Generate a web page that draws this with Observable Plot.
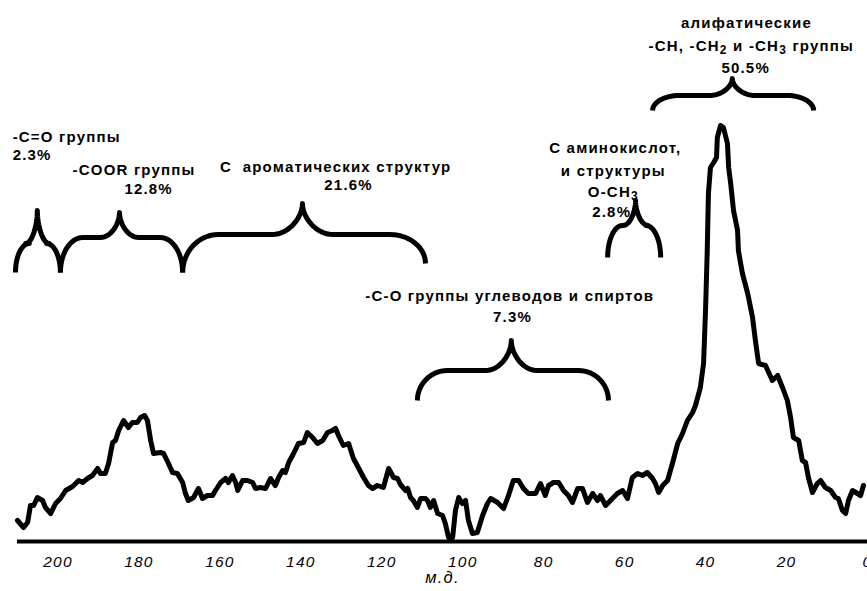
<!DOCTYPE html>
<html>
<head>
<meta charset="utf-8">
<script src="https://cdn.jsdelivr.net/npm/d3@7"></script>
<script src="https://cdn.jsdelivr.net/npm/@observablehq/plot@0.6"></script>
<style>
  body { margin: 0; background: #fff; }
</style>
</head>
<body>
<div id="chart"></div>
<script>
// Chemical shift (ppm) and signal intensity
const ppm = [210.0,208.5,207.5,206.8,206.0,205.1,203.8,203.1,201.8,200.6,199.4,198.1,196.4,194.9,193.9,192.7,191.5,190.2,189.5,188.3,187.5,186.5,185.8,185.0,183.8,182.6,181.6,180.4,179.6,178.6,177.9,177.1,176.4,174.7,173.9,172.7,171.7,170.5,169.2,168.5,167.8,166.5,165.3,164.3,163.1,161.8,161.1,159.8,158.6,157.9,156.9,156.1,155.6,154.4,153.2,151.9,151.2,150.0,148.7,147.5,146.3,145.5,144.5,143.8,143.0,141.8,140.6,139.3,138.4,137.1,135.9,134.6,133.4,132.2,131.4,130.7,129.5,128.2,127.0,125.8,124.5,123.3,122.3,121.1,119.6,118.3,117.1,116.1,115.4,114.1,113.6,112.9,112.2,111.2,110.4,109.9,109.2,108.7,108.0,107.2,106.2,105.0,104.3,103.5,102.5,101.8,101.0,100.1,99.3,98.6,97.6,96.4,95.1,93.9,93.1,91.4,89.9,88.7,87.5,86.2,85.0,83.8,82.0,80.8,79.6,78.8,77.6,76.3,75.1,73.9,72.9,71.6,70.4,69.2,67.9,66.7,66.0,64.7,63.5,61.8,60.5,59.3,58.1,56.8,55.6,54.4,53.1,52.4,51.6,50.6,49.4,48.2,46.9,45.7,44.5,43.2,42.5,41.3,40.5,40.0,39.6,39.3,38.8,38.0,37.3,37.1,36.3,35.6,34.6,34.3,33.8,33.1,32.1,31.9,30.9,29.6,28.4,27.7,26.9,25.2,23.5,22.2,21.0,19.8,19.0,18.3,17.0,16.1,15.3,14.6,13.6,12.4,11.6,10.4,9.1,7.9,7.2,6.2,5.4,4.7,3.7,2.5,1.7,1.0];
const intensity = [21,14,19,36,36,44,41,34,28,38,43,51,55,61,59,63,66,73,68,68,78,99,101,111,121,114,119,119,124,126,121,101,88,89,88,78,69,68,59,48,41,44,53,43,46,46,51,59,63,59,66,59,51,61,61,59,53,54,53,63,56,64,71,69,79,88,98,99,109,104,98,101,109,111,113,106,96,98,83,74,64,56,53,56,54,73,64,63,57,51,53,44,41,34,43,43,43,41,34,41,28,26,18,4,4,31,44,38,41,21,8,9,26,38,43,39,33,46,61,61,53,48,48,58,46,56,59,59,51,46,39,53,53,39,48,41,46,36,41,48,51,43,64,68,66,69,63,58,49,56,61,78,98,108,121,129,136,154,178,233,290,348,374,379,384,404,416,414,398,374,358,331,311,291,268,248,224,201,178,176,161,166,154,141,124,104,101,81,79,64,49,58,61,54,51,44,43,31,28,41,51,48,46,56];

// Axis
const tickValues = [200, 180, 160, 140, 120, 100, 80, 60, 40, 20, 0];
const axisTitle = "м.д.";

// Group labels
const labelText = [
  "-C=O группы", "2.3%",
  "-COOR группы", "12.8%",
  "С  ароматических структур", "21.6%",
  "С аминокислот,", "и структуры", "O-CH₃", "2.8%",
  "-C-O группы углеводов и спиртов", "7.3%",
  "алифатические", "-CH, -CH₂ и -CH₃ группы", "50.5%"
];
const labelX = [211.2, 211.2, 181.2, 177.6, 131.4, 128.2, 62.3, 62.8, 62.8, 63.2, 88.4, 87.7, 29.9, 28.7, 30.1];
const labelY = [404, 386, 371, 352, 374, 356, 393, 370, 349, 329, 245, 224, 518, 495, 473];
const labelAnchor = ["start", "start", "middle", "middle", "middle", "middle", "middle", "middle", "middle", "middle", "middle", "middle", "middle", "middle", "middle"];

// Braces: span (ppm), tip (ppm), end / shoulder / tip levels (intensity units)
const braceFrom = [210.5, 199.4, 169.2, 111.2, 64.2, 53.1];
const braceTo   = [199.4, 169.2, 109.2, 64.0, 51.1, 13.3];
const braceTip  = [205.1, 184.8, 139.6, 88.0, 57.3, 33.4];
const braceEndFrom = [269, 269, 269, 141, 284, 431];
const braceEndTo   = [269, 269, 278, 141, 284, 431];
const braceMid  = [298, 304, 307, 171, 316, 446];
const bracePeak = [331, 329, 338, 201, 341, 463];

function bez(p0, p1, p2, p3, n) {
  const pts = [];
  for (let k = 0; k <= n; k++) {
    const t = k / n, u = 1 - t;
    pts.push([
      u*u*u*p0[0] + 3*u*u*t*p1[0] + 3*u*t*t*p2[0] + t*t*t*p3[0],
      u*u*u*p0[1] + 3*u*u*t*p1[1] + 3*u*t*t*p2[1] + t*t*t*p3[1]
    ]);
  }
  return pts;
}

const braceRows = [];
braceFrom.forEach((x0, i) => {
  const x1 = braceTo[i], xc = braceTip[i];
  const yb0 = braceEndFrom[i], yb1 = braceEndTo[i], ym = braceMid[i], yt = bracePeak[i];
  const half = Math.abs(x1 - x0) / 2;
  const r1 = 2.2 + 0.22 * half, r2 = 0.85 * r1;
  const s = Math.sign(x1 - x0);
  const pts = [
    ...bez([x0, yb0], [x0, yb0 + 0.55 * (ym - yb0)], [x0 + s * r1 * 0.45, ym], [x0 + s * r1, ym], 16),
    ...bez([xc - s * r2, ym], [xc - s * r2 * 0.45, ym], [xc, ym + 0.55 * (yt - ym)], [xc, yt], 16),
    ...bez([xc, yt], [xc, ym + 0.55 * (yt - ym)], [xc + s * r2 * 0.45, ym], [xc + s * r2, ym], 16),
    ...bez([x1 - s * r1, ym], [x1 - s * r1 * 0.45, ym], [x1, yb1 + 0.55 * (ym - yb1)], [x1, yb1], 16)
  ];
  pts.forEach(([x, y]) => braceRows.push({id: i, x, y}));
});

const spectrum = ppm.map((x, i) => ({x, y: intensity[i]}));
const labels = labelText.map((text, i) => ({text, x: labelX[i], y: labelY[i], anchor: labelAnchor[i]}));

const chart = Plot.plot({
  width: 867,
  height: 591,
  marginLeft: 17,
  marginRight: 0,
  marginTop: 0,
  marginBottom: 50,
  x: {domain: [210, 0]},
  y: {domain: [0, 541], axis: null},
  style: {fontFamily: "'Liberation Sans', Arial, sans-serif", background: "#fff", color: "#000"},
  marks: [
    Plot.axisX({ticks: tickValues, tickSize: 0, tickPadding: 14, fontSize: 15.5, fontStyle: "italic", label: null, tickFormat: d => String(d)}),
    Plot.text([axisTitle], {frameAnchor: "bottom", dy: 41, fontSize: 16.5, fontStyle: "italic", fill: "#000"}),
    Plot.ruleY([0], {stroke: "#000", strokeWidth: 4}),
    Plot.line(spectrum, {x: "x", y: "y", stroke: "#000", strokeWidth: 5, strokeLinejoin: "round"}),
    Plot.text(labels.filter(d => d.anchor === "start"), {x: "x", y: "y", text: "text", textAnchor: "start", fontWeight: "bold", fontSize: 15, fill: "#000"}),
    Plot.text(labels.filter(d => d.anchor === "middle"), {x: "x", y: "y", text: "text", textAnchor: "middle", fontWeight: "bold", fontSize: 15, fill: "#000"}),
    Plot.line(braceRows, {x: "x", y: "y", z: "id", stroke: "#000", strokeWidth: 5, strokeLinejoin: "round", strokeLinecap: "butt"})
  ]
});
chart.style.letterSpacing = "1.2px";

// Render subscript digits as real lowered, smaller text
const subs = {"₂": "2", "₃": "3"};
d3.select(chart).selectAll("text").each(function() {
  const el = this;
  if (el.children.length) return;
  const str = el.textContent;
  if (!/[₂₃]/.test(str)) return;
  el.textContent = "";
  let buf = "";
  const flush = () => { if (buf) { d3.select(el).append("tspan").text(buf); buf = ""; } };
  for (const ch of str) {
    if (subs[ch]) {
      flush();
      d3.select(el).append("tspan").attr("baseline-shift", "-3").attr("font-size", 12).text(subs[ch]);
    } else buf += ch;
  }
  flush();
});
document.getElementById("chart").appendChild(chart);
</script>
</body>
</html>
